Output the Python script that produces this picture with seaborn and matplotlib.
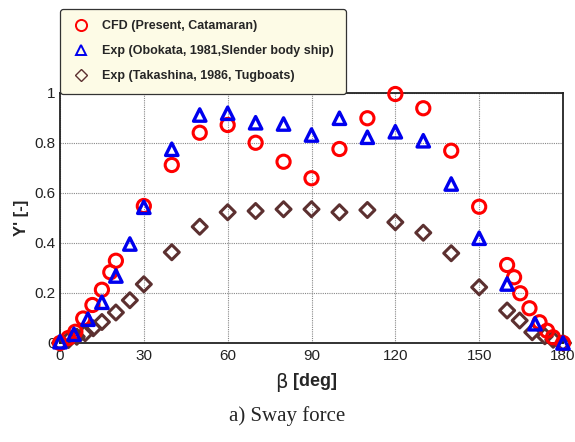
import matplotlib
matplotlib.use("Agg")
import matplotlib.pyplot as plt
from matplotlib.lines import Line2D
from matplotlib.ticker import MultipleLocator, FixedLocator
import seaborn as sns
import pandas as pd

# CFD (Present, Catamaran)
cfd_beta = [0, 3, 5.5, 8.3, 11.6, 15, 18, 20, 30, 40, 50, 60, 70, 80, 90, 100, 110, 120,
            130, 140, 150, 160, 162.5, 164.7, 168, 171.6, 174.3, 176.4, 180]
cfd_y = [0, 0.02, 0.045, 0.098, 0.152, 0.213, 0.283, 0.329, 0.548, 0.712, 0.841, 0.872,
         0.801, 0.725, 0.659, 0.776, 0.899, 0.996, 0.939, 0.769, 0.545, 0.312, 0.263,
         0.199, 0.139, 0.083, 0.049, 0.023, 0.0]

# Exp (Obokata, 1981, Slender body ship)
obo_beta = [0, 5, 10, 15, 20, 25, 30, 40, 50, 60, 70, 80, 90, 100, 110, 120, 130, 140,
            150, 160, 170, 180]
obo_y = [0.005, 0.035, 0.095, 0.163, 0.268, 0.396, 0.543, 0.775, 0.912, 0.919, 0.881,
         0.876, 0.832, 0.899, 0.823, 0.845, 0.809, 0.636, 0.419, 0.236, 0.077, 0.0]

# Exp (Takashina, 1986, Tugboats)
tak_beta = [0, 3, 6, 9, 11.9, 15, 20, 25, 30, 40, 50, 60, 70, 80, 90, 100, 110, 120, 130,
            140, 150, 160, 164.5, 169, 173.5, 176.5, 180]
tak_y = [0.0, 0.012, 0.025, 0.039, 0.059, 0.084, 0.122, 0.171, 0.235, 0.363, 0.465,
         0.523, 0.528, 0.535, 0.535, 0.523, 0.532, 0.483, 0.441, 0.359, 0.223, 0.130,
         0.090, 0.043, 0.027, 0.013, 0.0]

labels = ["CFD (Present, Catamaran)",
          "Exp (Obokata, 1981,Slender body ship)",
          "Exp (Takashina, 1986, Tugboats)"]
x_ticks = [0, 30, 60, 90, 120, 150, 180]
y_ticks = [0, 0.2, 0.4, 0.6, 0.8, 1.0]
y_tick_labels = ["0", "0.2", "0.4", "0.6", "0.8", "1"]

sns.set_style("white")
plt.rcParams['font.family'] = ['Liberation Sans', 'DejaVu Sans']

fig = plt.figure(figsize=(5.75, 4.42), dpi=100)
ax = fig.add_axes([60/575, 1-343/442, 503/575, 250/442])

red = "#ff0000"
blue = "#0000ee"
brown = "#5c3030"

df_t = pd.DataFrame({"beta": tak_beta, "y": tak_y})
df_c = pd.DataFrame({"beta": cfd_beta, "y": cfd_y})
df_o = pd.DataFrame({"beta": obo_beta, "y": obo_y})

sns.scatterplot(data=df_t, x="beta", y="y", ax=ax, marker="D", s=58,
                facecolor="none", edgecolor=brown, linewidth=2.2, zorder=3, clip_on=False)
sns.scatterplot(data=df_c, x="beta", y="y", ax=ax, marker="o", s=90,
                facecolor="none", edgecolor=red, linewidth=2.2, zorder=4, clip_on=False)
sns.scatterplot(data=df_o, x="beta", y="y", ax=ax, marker="^", s=80,
                facecolor="none", edgecolor=blue, linewidth=2.4, zorder=5, clip_on=False)

ax.set_xlim(0, 180)
ax.set_ylim(0, 1)
ax.xaxis.set_major_locator(FixedLocator(x_ticks))
ax.xaxis.set_minor_locator(MultipleLocator(15))
ax.yaxis.set_major_locator(FixedLocator(y_ticks))
ax.set_yticklabels(y_tick_labels)
ax.yaxis.set_minor_locator(MultipleLocator(0.1))
ax.tick_params(which="both", direction="in", top=False, right=False,
               labelsize=11, colors="#222222")
ax.tick_params(which="major", length=7, width=0.8)
ax.tick_params(which="minor", length=4, width=0.8)
ax.tick_params(axis="x", pad=4)
ax.tick_params(axis="y", pad=3)
ax.grid(True, which="major", color="#888888", linestyle=(0, (1, 1)), linewidth=0.8)
ax.set_axisbelow(True)
for sp in ax.spines.values():
    sp.set_color("#222222")
    sp.set_linewidth(1.3)
    sp.set_visible(True)

ax.set_xlabel("")
ax.set_ylabel("Y' [-]", fontsize=12, fontweight="bold", labelpad=4)
fig.text(0.5, 1-382/442, "β", ha="right", va="center", fontsize=14,
         family=["DejaVu Sans"])
fig.text(0.5, 1-382/442, " [deg]", ha="left", va="center", fontsize=13, fontweight="bold")

fig.text(287/575, 1-416/442, "a) Sway force", ha="center", va="center", fontsize=15,
         family=["Liberation Serif", "DejaVu Serif"])

handles = [
    Line2D([], [], marker="o", linestyle="", markerfacecolor="none", markeredgecolor=red,
           markersize=8, markeredgewidth=1.4),
    Line2D([], [], marker="^", linestyle="", markerfacecolor="none", markeredgecolor=blue,
           markersize=7, markeredgewidth=1.4),
    Line2D([], [], marker="D", linestyle="", markerfacecolor="none", markeredgecolor=brown,
           markersize=6, markeredgewidth=1.0),
]
leg = fig.legend(handles, labels, loc="upper left",
                 bbox_to_anchor=(60/575, 1-9/442), frameon=True, fancybox=True,
                 prop={"size": 9, "weight": "bold"}, labelspacing=1.05,
                 handletextpad=1.0, borderpad=0.9, borderaxespad=0,
                 handlelength=1.5)
frame = leg.get_frame()
frame.set_facecolor("#fdfbe6")
frame.set_edgecolor("#333333")
frame.set_alpha(1)
frame.set_linewidth(0.9)
leg.set_zorder(10)

fig.savefig("out.png", dpi=100)
